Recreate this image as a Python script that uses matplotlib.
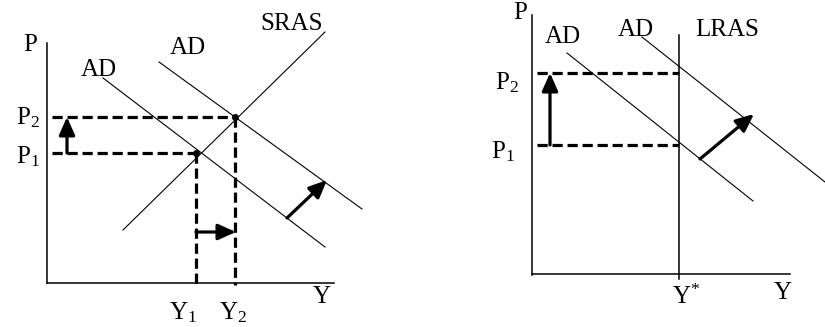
import matplotlib.pyplot as plt

plt.rcParams['font.family'] = ['Liberation Serif', 'DejaVu Serif']
plt.rcParams['mathtext.fontset'] = 'custom'
plt.rcParams['mathtext.rm'] = 'Liberation Serif'
plt.rcParams['mathtext.it'] = 'Liberation Serif'

# --- left panel: AD shift with upward sloping SRAS (pixel coords, y down) ---
left_axes = [[47, 43, 47, 283], [47, 283, 334, 283]]
left_curves = [[123, 230, 325, 32],   # SRAS
               [103, 78, 325, 247],   # AD1
               [159, 62, 362, 209]]   # AD2
left_dashed = [[52, 117, 235, 117], [52, 153, 196, 153],
               [196, 153, 196, 284], [235, 117, 235, 285]]
left_arrows = [[67, 153, 67, 117], [196, 232, 236, 232], [287, 218, 327, 180]]
left_points = [[196, 153], [235, 117]]
left_labels = [("P", 30, 45), ("AD", 99, 70), ("AD", 188, 48), ("SRAS", 292, 24),
               ("P$_2$", 28, 118), ("P$_1$", 28, 157), ("Y", 322, 297),
               ("Y$_1$", 183, 313), ("Y$_2$", 233, 313)]

# --- right panel: AD shift with vertical LRAS ---
right_axes = [[532, 15, 532, 275], [532, 274, 790, 274], [679, 35, 679, 279]]
right_curves = [[567, 53, 753, 201],   # AD1
                [642, 37, 825, 182]]   # AD2
right_dashed = [[537, 73, 679, 73], [537, 145, 679, 145]]
right_arrows = [[550, 145, 550, 73], [700, 159, 754, 114]]
right_labels = [("P", 520, 13), ("AD", 563, 37), ("AD", 636, 30), ("LRAS", 727, 30),
                ("P$_2$", 507, 83), ("P$_1$", 503, 152), ("Y$^{*}$", 686, 297),
                ("Y", 783, 293)]

fig = plt.figure(figsize=(8.25, 3.27), dpi=100)
ax = fig.add_axes([0, 0, 1, 1])
ax.set_xlim(0, 825)
ax.set_ylim(327, 0)
ax.axis('off')

for x0, y0, x1, y1 in left_axes + right_axes:
    ax.plot([x0, x1], [y0, y1], color='black', lw=1.1)
for x0, y0, x1, y1 in left_curves + right_curves:
    ax.plot([x0, x1], [y0, y1], color='black', lw=0.8)
for x0, y0, x1, y1 in left_dashed + right_dashed:
    ax.plot([x0, x1], [y0, y1], color='black', lw=2.3, dashes=(3.2, 1.5))
for x, y in left_points:
    ax.plot(x, y, 'o', color='black', ms=4)
for x0, y0, x1, y1 in left_arrows + right_arrows:
    ax.annotate("", xy=(x1, y1), xytext=(x0, y0),
                arrowprops=dict(arrowstyle='-|>,head_length=0.9,head_width=0.4',
                                mutation_scale=12, color='black', lw=2.3,
                                shrinkA=0, shrinkB=0))
for txt, x, y in left_labels + right_labels:
    ax.text(x, y, txt, fontsize=18, ha='center', va='center', color='black')

plt.savefig("out.png", dpi=100)
